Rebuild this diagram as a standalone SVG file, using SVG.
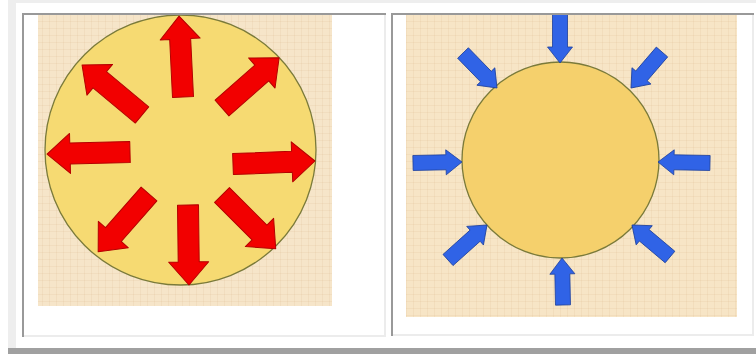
<svg xmlns="http://www.w3.org/2000/svg" width="756" height="354" viewBox="0 0 756 354">
  <style>
    .bdark { fill: #999999; }
    .blight { fill: #ececec; }
    .red { fill: #f20000; stroke: #b40000; stroke-width: 1; stroke-linejoin: round; }
    .blue { fill: #3063e6; stroke: #1c3f9c; stroke-width: 0.8; stroke-linejoin: round; }
    .disk { stroke: #7a7a3a; stroke-width: 1.3; }
  </style>
  <defs>
    <pattern id="grid" width="7" height="7" patternUnits="userSpaceOnUse">
      <path d="M0 0.5 H7 M0.5 0 V7" stroke="#d9ae80" stroke-opacity="0.14" stroke-width="1"/>
    </pattern>
    <clipPath id="clip1"><rect x="38" y="15" width="294" height="291"/></clipPath>
    <clipPath id="clip2"><rect x="406" y="15" width="331" height="302"/></clipPath>
  </defs>

  <!-- page frame -->
  <rect width="756" height="354" fill="#ffffff"/>
  <rect x="8" y="0" width="8" height="348" fill="#eeeeee"/>
  <rect x="8" y="0" width="748" height="3" fill="#eeeeee"/>
  <rect x="8" y="348" width="748" height="6" fill="#a0a0a0"/>

  <!-- table cells -->
  <g id="cell-left">
    <rect class="bdark" x="22" y="13" width="364" height="2"/>
    <rect class="bdark" x="22" y="13" width="2" height="324"/>
    <rect class="blight" x="384" y="15" width="2" height="322"/>
    <rect class="blight" x="24" y="335" width="362" height="2"/>
  </g>
  <g id="cell-right">
    <rect class="bdark" x="391" y="13" width="363" height="2"/>
    <rect class="bdark" x="391" y="13" width="2" height="323"/>
    <rect class="blight" x="752" y="15" width="2" height="321"/>
    <rect class="blight" x="393" y="334" width="361" height="2"/>
  </g>

  <!-- left picture: arrows pointing outward -->
  <g id="picture-outward" clip-path="url(#clip1)">
    <rect x="38" y="15" width="294" height="291" fill="#f6e5c9"/>
    <rect x="38" y="15" width="294" height="291" fill="url(#grid)"/>
    <g id="disk-outward">
      <ellipse class="disk" cx="180.5" cy="150" rx="135.5" ry="135" fill="#f6da72"/>
    </g>
    <g id="arrows-outward">
      <path class="red" transform="translate(183,97) rotate(-92.8)" d="M0,-10.5 L58,-10.5 L58,-20 L81,0 L58,20 L58,10.5 L0,10.5 Z"/>
      <path class="red" transform="translate(222,108) rotate(-41.3)" d="M0,-10.5 L53,-10.5 L53,-20 L76,0 L53,20 L53,10.5 L0,10.5 Z"/>
      <path class="red" transform="translate(233,164) rotate(-2.1)" d="M0,-10.5 L59,-10.5 L59,-20 L82,0 L59,20 L59,10.5 L0,10.5 Z"/>
      <path class="red" transform="translate(222,195) rotate(45)" d="M0,-10.5 L53,-10.5 L53,-20 L76,0 L53,20 L53,10.5 L0,10.5 Z"/>
      <path class="red" transform="translate(188,205) rotate(89.3)" d="M0,-10.5 L57,-10.5 L57,-20 L80,0 L57,20 L57,10.5 L0,10.5 Z"/>
      <path class="red" transform="translate(149,194) rotate(131.3)" d="M0,-10.5 L54,-10.5 L54,-20 L77,0 L54,20 L54,10.5 L0,10.5 Z"/>
      <path class="red" transform="translate(130,152) rotate(178.6)" d="M0,-10.5 L60,-10.5 L60,-20 L83,0 L60,20 L60,10.5 L0,10.5 Z"/>
      <path class="red" transform="translate(142,115) rotate(-140.2)" d="M0,-10.5 L55,-10.5 L55,-20 L78,0 L55,20 L55,10.5 L0,10.5 Z"/>
    </g>
  </g>

  <!-- right picture: arrows pointing inward -->
  <g id="picture-inward" clip-path="url(#clip2)">
    <rect x="406" y="15" width="331" height="302" fill="#f7e5c6"/>
    <rect x="406" y="15" width="331" height="302" fill="url(#grid)"/>
    <g id="disk-inward">
      <ellipse class="disk" cx="560.5" cy="160" rx="98.5" ry="98" fill="#f5d06c"/>
    </g>
    <g id="arrows-inward">
      <path class="blue" transform="translate(560,8) rotate(90)" d="M0,-7.5 L39,-7.5 L39,-12.5 L55,0 L39,12.5 L39,7.5 L0,7.5 Z"/>
      <path class="blue" transform="translate(662,52) rotate(130.7)" d="M0,-7.5 L31.5,-7.5 L31.5,-12.5 L47.5,0 L31.5,12.5 L31.5,7.5 L0,7.5 Z"/>
      <path class="blue" transform="translate(710,163) rotate(181.1)" d="M0,-7.5 L36,-7.5 L36,-12.5 L52,0 L36,12.5 L36,7.5 L0,7.5 Z"/>
      <path class="blue" transform="translate(670,257) rotate(-139.9)" d="M0,-7.5 L33.7,-7.5 L33.7,-12.5 L49.7,0 L33.7,12.5 L33.7,7.5 L0,7.5 Z"/>
      <path class="blue" transform="translate(563,305) rotate(-91.2)" d="M0,-7.5 L31,-7.5 L31,-12.5 L47,0 L31,12.5 L31,7.5 L0,7.5 Z"/>
      <path class="blue" transform="translate(448,260) rotate(-41.9)" d="M0,-7.5 L36.4,-7.5 L36.4,-12.5 L52.4,0 L36.4,12.5 L36.4,7.5 L0,7.5 Z"/>
      <path class="blue" transform="translate(413,163) rotate(-1.2)" d="M0,-7.5 L33,-7.5 L33,-12.5 L49,0 L33,12.5 L33,7.5 L0,7.5 Z"/>
      <path class="blue" transform="translate(463,53) rotate(45.8)" d="M0,-7.5 L32.8,-7.5 L32.8,-12.5 L48.8,0 L32.8,12.5 L32.8,7.5 L0,7.5 Z"/>
    </g>
  </g>
</svg>
